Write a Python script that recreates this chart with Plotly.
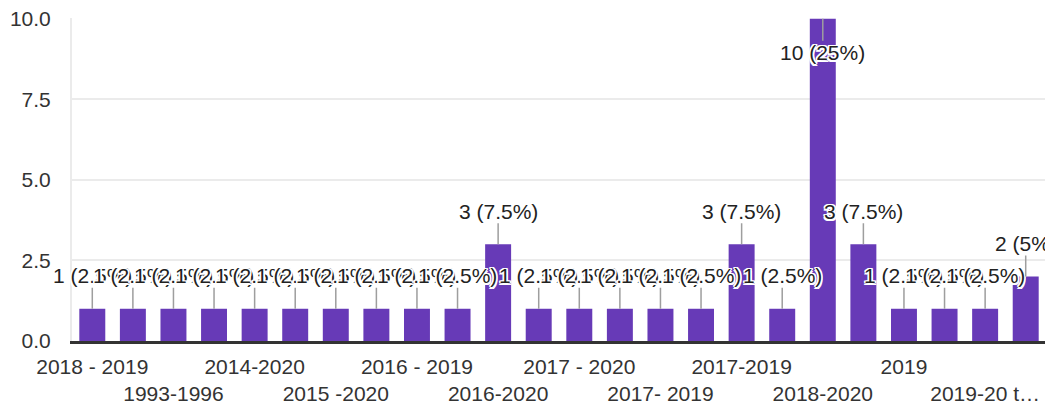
import plotly.graph_objects as go

# answers in the order the form reported them
categories = [
    "2018 - 2019", "2019-2020", "1993-1996", "2015-2019", "2014-2020",
    "2014 - 2018", "2015 -2020", "2016-2019", "2016 - 2019", "2016 -2020",
    "2016-2020", "2017-2020", "2017 - 2020", "2017 -2019", "2017- 2019",
    "2017-2018", "2017-2019", "2018", "2018-2020", "2018 -2020",
    "2019", "2019-2021", "2019-20 to 2020-21", "2020",
]
counts = [1, 1, 1, 1, 1, 1, 1, 1, 1, 1, 3, 1, 1, 1, 1, 1, 3, 1, 10, 3, 1, 1, 1, 2]
y_ticks = [0, 2.5, 5, 7.5, 10]

# only every second category gets a tick label, alternating on two rows
tick_text = [
    "2018 - 2019", "1993-1996", "2014-2020", "2015 -2020", "2016 - 2019",
    "2016-2020", "2017 - 2020", "2017- 2019", "2017-2019", "2018-2020",
    "2019", "2019-20 t…",
]

PURPLE = "#673ab7"
FONT = "Liberation Sans, Arial, sans-serif"
HALO = ("-1.5px -1.5px 0 #fff, 1.5px -1.5px 0 #fff, -1.5px 1.5px 0 #fff, "
        "1.5px 1.5px 0 #fff, 0 1.5px 0 #fff, 0 -1.5px 0 #fff, "
        "1.5px 0 0 #fff, -1.5px 0 0 #fff")

total = sum(counts)
labels = [f"{n} ({n / total * 100:g}%)" for n in counts]
ymax = max(y_ticks)
pos = list(range(len(categories)))

fig = go.Figure(go.Bar(
    x=pos,
    y=counts,
    hovertext=categories,
    marker=dict(color=PURPLE, line_width=0),
))

for i, n, lab in zip(pos, counts, labels):
    inside = n >= ymax
    fig.add_annotation(
        x=i, y=n, text=lab,
        showarrow=True, arrowhead=0, arrowwidth=1.5, arrowcolor="#9e9e9e",
        ax=0, ay=34 if inside else -33,
        standoff=0, borderpad=0,
        font=dict(family=FONT, size=21, color="#222", shadow=HALO),
    )

# the page body has an 8px margin, so the figure sits 8px in from the corner
fig.update_layout(
    width=1045, height=400,
    paper_bgcolor="white",
    plot_bgcolor="white",
    margin=dict(l=64, r=7, t=10, b=67),
    bargap=0.36,
    showlegend=False,
    font=dict(family=FONT, size=21, color="#333"),
)
fig.update_xaxes(
    range=[-0.5, len(categories) - 0.5],
    tickvals=pos[::2],
    ticktext=[t if k % 2 == 0 else "<br>" + t for k, t in enumerate(tick_text)],
    tickangle=0,
    ticks="", ticklabelstandoff=5,
    showgrid=False, zeroline=False,
    showline=True, linecolor="#333", linewidth=2.5,
    automargin=False,
)
fig.update_yaxes(
    # a hair above 10 so the top gridline is still drawn
    range=[0, ymax * 1.002],
    tickvals=y_ticks,
    tickformat=".1f",
    ticks="", ticklabelstandoff=15, ticklabeloverflow="allow",
    showgrid=True, gridcolor="#ebebeb", gridwidth=2,
    zeroline=False,
    showline=True, linecolor="#ebebeb", linewidth=2, mirror=True,
    automargin=False,
)

fig.write_html("out.html")
